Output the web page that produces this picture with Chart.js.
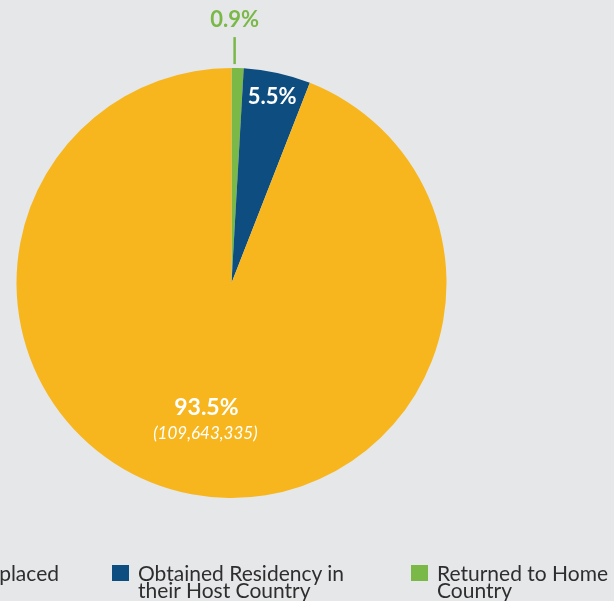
<!DOCTYPE html>
<html>
<head>
<meta charset="utf-8">
<script src="https://cdn.jsdelivr.net/npm/chart.js@4.4.0/dist/chart.umd.min.js"></script>
<style>
  html, body { margin: 0; padding: 0; background: #e6e7e9; overflow: hidden; }
  #wrap { position: relative; width: 614px; height: 601px; }
  #legend { position: absolute; left: 0; top: 0; width: 614px; height: 601px; pointer-events: none; }
  .item { position: absolute; top: 564px; display: flex; align-items: flex-start; white-space: nowrap;
          font-family: Lato, sans-serif; font-size: 21px; line-height: 17px; color: #2e2e2e; }
  .box { width: 17px; height: 16px; margin-top: 1px; margin-right: 9px; flex: none; }
</style>
</head>
<body>
<div id="wrap">
  <canvas id="myChart" width="614" height="601"></canvas>
  <div id="legend"></div>
</div>
<script>
// slices in drawing order, clockwise from the top
const categories = ["Returned to Home Country", "Obtained Residency in their Host Country", "Remained Displaced"];
const shares = [0.9, 5.0, 93.5];
const pctLabels = ["0.9%", "5.5%", "93.5%"];
const countLabels = ["", "", "(109,643,335)"];
const colors = ["#7ab848", "#0e4d80", "#f7b61e"];

// legend order as in the original
const legendOrder = [2, 1, 0];
const legendLines = {
  0: ["Returned to Home", "Country"],
  1: ["Obtained Residency in", "their Host Country"],
  2: ["Remained Displaced"]
};
const legendLeft = [-153, 112, 411];

const legend = document.getElementById("legend");
legendOrder.forEach((idx, i) => {
  const item = document.createElement("div");
  item.className = "item";
  item.style.left = legendLeft[i] + "px";
  item.innerHTML = '<div class="box" style="background:' + colors[idx] + '"></div><div>' +
    legendLines[idx].join("<br>") + "</div>";
  legend.appendChild(item);
});

// draws the percentage labels on / around the slices
const sliceLabels = {
  id: "sliceLabels",
  afterDatasetsDraw(chart) {
    const ctx = chart.ctx;
    const arcs = chart.getDatasetMeta(0).data;
    ctx.save();
    ctx.textAlign = "center";
    ctx.textBaseline = "middle";
    arcs.forEach((arc, i) => {
      const mid = (arc.startAngle + arc.endAngle) / 2;
      const r = arc.outerRadius;
      if (i === 0) {
        // small slice: label outside with a leader line
        const x = arc.x + Math.cos(mid) * r - 3;
        ctx.strokeStyle = colors[0];
        ctx.lineWidth = 2.5;
        ctx.beginPath();
        ctx.moveTo(x, arc.y + Math.sin(mid) * r - 4);
        ctx.lineTo(x, arc.y + Math.sin(mid) * r - 31);
        ctx.stroke();
        ctx.fillStyle = colors[0];
        ctx.font = "bold 22px Lato";
        ctx.fillText(pctLabels[i], x, 20);
      } else if (i === 1) {
        ctx.fillStyle = "#fff";
        ctx.font = "bold 22px Lato";
        ctx.fillText(pctLabels[i], arc.x + Math.cos(mid) * r * 0.885, arc.y + Math.sin(mid) * r * 0.885);
      } else {
        const x = arc.x + Math.cos(mid) * r * 0.58 - 2;
        const y = arc.y + Math.sin(mid) * r * 0.59;
        ctx.fillStyle = "#fff";
        ctx.font = "bold 23px Lato";
        ctx.fillText(pctLabels[i], x, y);
        ctx.font = "italic 17px Lato";
        ctx.fillText(countLabels[i], x - 1, y + 26);
      }
    });
    ctx.restore();
  }
};

const ctx = document.getElementById("myChart").getContext("2d");
const chart = new Chart(ctx, {
  type: "pie",
  data: {
    labels: categories,
    datasets: [
      {
        data: shares,
        backgroundColor: colors,
        borderWidth: 0,
        hoverOffset: 0,
        offset: 0
      }
    ]
  },
  options: {
    responsive: false,
    animation: false,
    events: [],
    layout: {
      padding: { left: 16.5, top: 68, right: 167.5, bottom: 103 }
    },
    plugins: {
      legend: { display: false },
      tooltip: { enabled: false }
    }
  },
  plugins: [sliceLabels]
});
</script>
</body>
</html>
